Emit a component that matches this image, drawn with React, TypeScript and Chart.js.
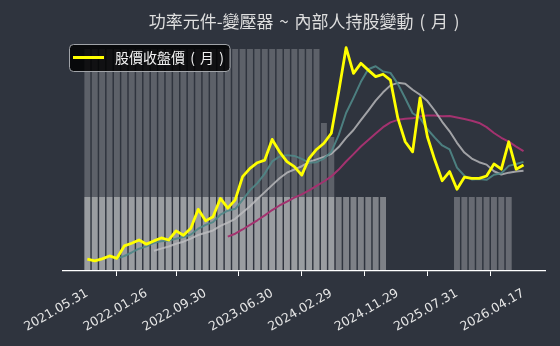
import React, { useEffect, useRef } from "react";
import { Chart, registerables } from "chart.js";

Chart.register(...registerables);

// Monthly categories (one point per month)
const months = [
  "2021.05", "2021.06", "2021.07", "2021.08", "2021.09", "2021.10", "2021.11", "2021.12",
  "2022.01", "2022.02", "2022.03", "2022.04", "2022.05", "2022.06", "2022.07", "2022.08", "2022.09", "2022.10", "2022.11", "2022.12",
  "2023.01", "2023.02", "2023.03", "2023.04", "2023.05", "2023.06", "2023.07", "2023.08", "2023.09", "2023.10", "2023.11", "2023.12",
  "2024.01", "2024.02", "2024.03", "2024.04", "2024.05", "2024.06", "2024.07", "2024.08", "2024.09", "2024.10", "2024.11", "2024.12",
  "2025.01", "2025.02", "2025.03", "2025.04", "2025.05", "2025.06", "2025.07", "2025.08", "2025.09", "2025.10", "2025.11", "2025.12",
  "2026.01", "2026.02", "2026.03", "2026.04",
];

const tickLabels = [
  "2021.05.31", "2022.01.26", "2022.09.30", "2023.06.30",
  "2024.02.29", "2024.11.29", "2025.07.31", "2026.04.17",
];

// Monthly close price
const closePrice = [
  40, 34, 41, 51, 43, 85, 94, 105, 91, 102,
  112, 105, 136, 121, 145, 209, 170, 184, 246, 213,
  241, 320, 348, 367, 376, 446, 404, 371, 354, 325,
  382, 412, 433, 467, 608, 757, 670, 704, 681, 659,
  667, 647, 518, 438, 404, 587, 455, 376, 306, 337,
  277, 318, 314, 314, 322, 363, 345, 438, 345, 359,
];

// Moving-average lines
const maShort = [
  null, null, null, null,
  41.8, 50.8, 62.8, 75.6, 83.6, 95.4, 100.8, 103, 109.2, 115.2,
  123.8, 143.2, 156.2, 165.8, 190.8, 204.4, 210.8, 240.8, 273.6, 297.8,
  330.4, 371.4, 388.2, 392.8, 390.2, 380, 367.2, 368.8, 381.2, 403.8,
  460.4, 535.4, 587, 641.2, 684, 694.2, 676.2, 671.6, 634.4, 585.8,
  534.8, 518.8, 480.4, 452, 425.6, 412.2, 350.2, 322.8, 310.4, 312,
  309, 326.2, 331.6, 356.4, 362.6, 370,
];

const maMid = [
  null, null, null, null, null, null, null, null, null,
  68.6, 75.8, 82.9, 92.4, 99.4, 109.6, 122, 129.6, 137.5, 153,
  164.1, 177, 198.5, 219.7, 244.3, 267.4, 291.1, 314.5, 333.2, 344,
  355.2, 369.3, 378.5, 387, 397, 420.2, 451.3, 477.9, 511.2, 543.9,
  577.3, 605.8, 629.3, 637.8, 634.9, 614.5, 597.5, 576, 543.2, 505.7,
  473.5, 434.5, 401.6, 381.2, 368.8, 360.6, 338.2, 327.2, 333.4, 337.3,
  339.5,
];

const maLong = [
  null, null, null, null, null, null, null, null, null, null,
  null, null, null, null, null, null, null, null, null,
  116.4, 126.4, 140.7, 156.1, 171.9, 188.5, 206.6, 222.1, 235.4, 248.5,
  259.7, 273.2, 288.5, 303.4, 320.7, 343.8, 371.2, 396.2, 422.2, 444,
  466.3, 487.6, 503.9, 512.4, 516, 517.4, 524.4, 527, 527.2, 524.8,
  525.4, 520.2, 515.5, 509.5, 501.9, 487.6, 467.9, 451.6, 438.3, 421.5,
  406.5,
];

// Insider holding bars (relative units)
const holdTall = [
  3, 3, 3, 3, 3, 3, 3, 3, 3, 3,
  3, 3, 3, 3, 3, 3, 3, 3, 3, 3,
  3, 3, 3, 3, 3, 3, 3, 3, 3, 3,
  3, 3, 2, 1.81, null, null, null, null, null, null,
  null, null, null, null, null, null, null, null, null, null,
  null, null, null, null, null, null, null, null, null, null,
];

const holdLow = [
  1, 1, 1, 1, 1, 1, 1, 1, 1, 1,
  1, 1, 1, 1, 1, 1, 1, 1, 1, 1,
  1, 1, 1, 1, 1, 1, 1, 1, 1, 1,
  1, 1, 1, 1, 1, 1, 1, 1, 1, 1,
  1, null, null, null, null, null, null, null, null, null,
  null, null, null, null, null, null, null, null, null, null,
];

const holdRecent = [
  null, null, null, null, null, null, null, null, null, null,
  null, null, null, null, null, null, null, null, null, null,
  null, null, null, null, null, null, null, null, null, null,
  null, null, null, null, null, null, null, null, null, null,
  null, null, null, null, null, null, null, null, null, null,
  1, 1, 1, 1, 1, 1, 1, 1, null, null,
];

const TITLE = "功率元件-變壓器 ~ 內部人持股變動 ( 月 )";
const LEGEND = "股價收盤價 ( 月 )";
const BG = "#2f343e";
const CJK = '"Noto Sans CJK TC", "Noto Sans CJK SC", sans-serif';

const toPoints = (arr: (number | null)[]) =>
  arr.map((v, i) => ({ x: i, y: v }));

const tickIndex = (label: string) => months.indexOf(label.slice(0, 7));

const decorPlugin = {
  id: "decor",
  beforeDraw(chart: any) {
    const ctx = chart.ctx;
    ctx.save();
    ctx.fillStyle = BG;
    ctx.fillRect(0, 0, chart.width, chart.height);
    ctx.restore();
  },
  afterDraw(chart: any) {
    const ctx = chart.ctx;
    const area = chart.chartArea;
    ctx.save();
    // title
    ctx.fillStyle = "#dedede";
    ctx.font = `17px ${CJK}`;
    ctx.textAlign = "center";
    ctx.textBaseline = "middle";
    try { (ctx as any).wordSpacing = "2px"; } catch (e) {}
    ctx.fillText(TITLE, (area.left + area.right) / 2, 22);
    // legend box
    const bx = 69.5, by = 44.5, bw = 160.5, bh = 27, r = 4;
    ctx.beginPath();
    ctx.moveTo(bx + r, by);
    ctx.lineTo(bx + bw - r, by);
    ctx.arcTo(bx + bw, by, bx + bw, by + r, r);
    ctx.lineTo(bx + bw, by + bh - r);
    ctx.arcTo(bx + bw, by + bh, bx + bw - r, by + bh, r);
    ctx.lineTo(bx + r, by + bh);
    ctx.arcTo(bx, by + bh, bx, by + bh - r, r);
    ctx.lineTo(bx, by + r);
    ctx.arcTo(bx, by, bx + r, by, r);
    ctx.closePath();
    ctx.fillStyle = "rgba(0,0,0,0.82)";
    ctx.fill();
    ctx.strokeStyle = "#a0a3a8";
    ctx.lineWidth = 1;
    ctx.stroke();
    ctx.beginPath();
    ctx.moveTo(73, 57.5);
    ctx.lineTo(104, 57.5);
    ctx.strokeStyle = "#ffff00";
    ctx.lineWidth = 3;
    ctx.stroke();
    ctx.fillStyle = "#f2f2f2";
    ctx.font = `14px ${CJK}`;
    ctx.textAlign = "left";
    ctx.textBaseline = "middle";
    try { (ctx as any).wordSpacing = "2px"; } catch (e) {}
    ctx.fillText(LEGEND, 115, 58);
    ctx.restore();
  },
};

export default function App() {
  const ref = useRef<HTMLCanvasElement | null>(null);

  useEffect(() => {
    if (!ref.current) return;
    const barCommon = {
      type: "bar" as const,
      yAxisID: "yb",
      grouped: false,
      barPercentage: 0.8,
      categoryPercentage: 1,
      borderWidth: 0,
      order: 10,
    };
    const chart = new Chart(ref.current, {
      type: "line",
      data: {
        datasets: [
          { ...barCommon, label: "tall", data: toPoints(holdTall), backgroundColor: "rgba(255,255,255,0.225)" } as any,
          { ...barCommon, label: "low", data: toPoints(holdLow), backgroundColor: "rgba(255,255,255,0.38)" } as any,
          { ...barCommon, label: "recent", data: toPoints(holdRecent), backgroundColor: "rgba(255,255,255,0.27)" } as any,
          {
            type: "line", label: "maLong", data: toPoints(maLong), yAxisID: "y",
            borderColor: "#a3326f", borderWidth: 2, pointRadius: 0, tension: 0, order: 4,
            borderJoinStyle: "round",
          },
          {
            type: "line", label: "maMid", data: toPoints(maMid), yAxisID: "y",
            borderColor: "rgba(190,190,192,0.8)", borderWidth: 2, pointRadius: 0, tension: 0, order: 3,
            borderJoinStyle: "round",
          },
          {
            type: "line", label: "maShort", data: toPoints(maShort), yAxisID: "y",
            borderColor: "rgba(80,135,135,0.9)", borderWidth: 2, pointRadius: 0, tension: 0, order: 2,
            borderJoinStyle: "round",
          },
          {
            type: "line", label: LEGEND, data: toPoints(closePrice), yAxisID: "y",
            borderColor: "#ffff00", borderWidth: 2.8, pointRadius: 0, tension: 0, order: 1,
            borderJoinStyle: "round",
          },
        ],
      },
      options: {
        animation: false,
        responsive: false,
        devicePixelRatio: 1,
        layout: { padding: { left: 62.5, right: 14.3, top: 35, bottom: 0 } },
        plugins: { legend: { display: false }, tooltip: { enabled: false }, title: { display: false } },
        scales: {
          x: {
            type: "linear",
            min: -3.36,
            max: 62,
            offset: false,
            afterBuildTicks: (scale: any) => {
              scale.ticks = tickLabels.map((l) => ({ value: tickIndex(l) }));
            },
            afterFit: (scale: any) => {
              scale.height = 75;
            },
            grid: {
              display: true,
              drawOnChartArea: false,
              drawTicks: true,
              tickLength: 5,
              color: "#ffffff",
              lineWidth: 1,
            },
            border: { display: true, color: "#ffffff", width: 1.3 },
            ticks: {
              autoSkip: false,
              maxRotation: 30,
              minRotation: 30,
              padding: 10,
              color: "#e6e6e6",
              font: { family: '"DejaVu Sans", sans-serif', size: 12.5 },
              callback: (v: any) => {
                const l = tickLabels.find((t) => tickIndex(t) === v);
                return l ?? null;
              },
            },
          },
          y: { display: false, min: 0, max: 800 },
          yb: { display: false, min: 0, max: 3.19 },
        },
      } as any,
      plugins: [decorPlugin],
    });
    return () => chart.destroy();
  }, []);

  return (
    <div style={{ position: "fixed", left: 0, top: 0, width: 560, height: 346, background: BG }}>
      <canvas ref={ref} width={560} height={346} style={{ display: "block", width: 560, height: 346 }} />
    </div>
  );
}
